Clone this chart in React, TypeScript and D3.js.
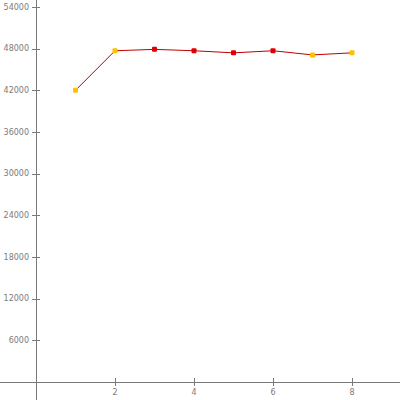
import React from "react";
import * as d3 from "d3";

const xValues = [1, 2, 3, 4, 5, 6, 7, 8];
const yValues = [42000, 47700, 47900, 47700, 47400, 47700, 47100, 47400];
const markerColors = ["#FFC000", "#FFC000", "#E00000", "#E00000", "#E00000", "#E00000", "#FFC000", "#FFC000"];
const yTicks = [6000, 12000, 18000, 24000, 30000, 36000, 42000, 48000, 54000];
const xTicks = [2, 4, 6, 8];

export default function App() {
  const W = 400, H = 400;
  const x = d3.scaleLinear().domain([0, 8]).range([36, 352]);
  const y = d3.scaleLinear().domain([0, 54000]).range([382, 7]);
  const line = d3.line<number>().x((_, i) => x(xValues[i])).y((d) => y(d));
  const axisColor = "#7a7a7a";
  return (
    <svg width={W} height={H} style={{ position: "absolute", left: 0, top: 0, background: "#fff" }}>
      <line x1={0} x2={W} y1={y(0) + 0.5} y2={y(0) + 0.5} stroke={axisColor} strokeWidth={1} />
      <line x1={x(0) + 0.5} x2={x(0) + 0.5} y1={0} y2={H} stroke={axisColor} strokeWidth={1} />
      {yTicks.map((t) => (
        <g key={t}>
          <line x1={x(0) - 4} x2={x(0) + 4} y1={Math.round(y(t)) + 0.5} y2={Math.round(y(t)) + 0.5} stroke={axisColor} />
          <text x={x(0) - 7} y={y(t)} dy="0.35em" textAnchor="end" fontSize={8} fill={axisColor} fontFamily="DejaVu Sans, sans-serif">
            {t}
          </text>
        </g>
      ))}
      {xTicks.map((t) => (
        <g key={t}>
          <line x1={Math.round(x(t)) + 0.5} x2={Math.round(x(t)) + 0.5} y1={y(0) - 4} y2={y(0) + 4} stroke={axisColor} />
          <text x={x(t)} y={y(0) + 10} dy="0.35em" textAnchor="middle" fontSize={8} fill={axisColor} fontFamily="DejaVu Sans, sans-serif">
            {t}
          </text>
        </g>
      ))}
      <path d={line(yValues) || ""} fill="none" stroke="#C00000" strokeWidth={1} />
      {yValues.map((v, i) => (
        <rect key={i} x={x(xValues[i]) - 2.5} y={y(v) - 2.5} width={5} height={5} rx={1} fill={markerColors[i]} />
      ))}
    </svg>
  );
}
